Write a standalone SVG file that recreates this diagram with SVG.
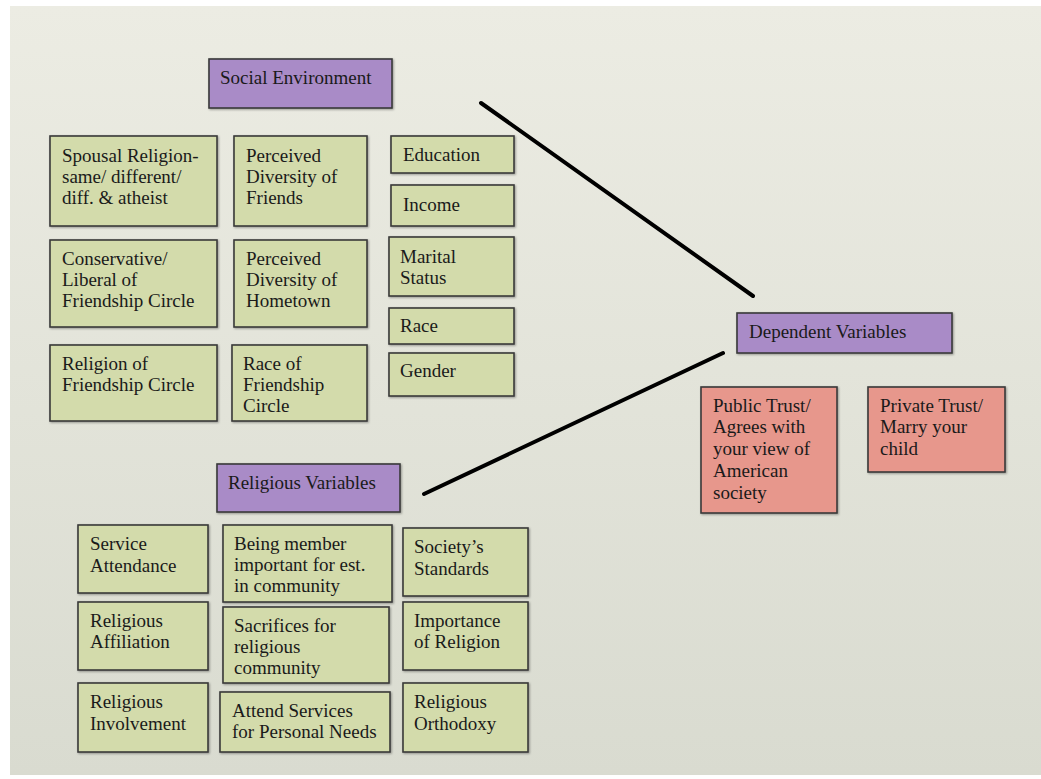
<svg xmlns="http://www.w3.org/2000/svg" width="1041" height="779" viewBox="0 0 1041 779">
<defs>
<linearGradient id="bg" x1="0" y1="0" x2="0" y2="1">
<stop offset="0" stop-color="#ecece3"/>
<stop offset="1" stop-color="#d9dbd0"/>
</linearGradient>
<filter id="sh" x="-10%" y="-10%" width="130%" height="130%">
<feDropShadow dx="1" dy="1" stdDeviation="0.8" flood-color="#000" flood-opacity="0.35"/>
</filter>
</defs>
<style>
.g{fill:#d3dbab;stroke:#3a3a3a;stroke-width:1.6;filter:url(#sh)}
.p{fill:#a98bc7;stroke:#3a3a3a;stroke-width:1.6;filter:url(#sh)}
.r{fill:#e7978c;stroke:#3a3a3a;stroke-width:1.6;filter:url(#sh)}
text{font-family:"Liberation Serif","Times New Roman",serif;font-size:19px;fill:#1a1a1a}
.c{stroke:#000;stroke-width:4;stroke-linecap:round;fill:none}
</style>
<rect x="0" y="0" width="1041" height="779" fill="#ffffff"/>
<rect x="10" y="6" width="1031" height="769" fill="url(#bg)"/>

<g id="connectors">
<line class="c" x1="481" y1="103" x2="753" y2="296"/>
<line class="c" x1="424" y1="494" x2="723" y2="353"/>
</g>

<g id="social-environment"><rect class="p" x="209" y="59" width="183" height="49"/><text x="220" y="84">Social Environment</text></g>
<g id="spousal-religion"><rect class="g" x="50" y="136" width="167" height="90"/><text x="62" y="162">Spousal Religion-</text><text x="62" y="183">same/ different/</text><text x="62" y="204">diff. &amp; atheist</text></g>
<g id="perceived-diversity-friends"><rect class="g" x="234" y="136" width="133" height="90"/><text x="246" y="162">Perceived</text><text x="246" y="183">Diversity of</text><text x="246" y="204">Friends</text></g>
<g id="education"><rect class="g" x="391" y="136" width="123" height="37"/><text x="403" y="161">Education</text></g>
<g id="income"><rect class="g" x="391" y="185" width="123" height="41"/><text x="403" y="211">Income</text></g>
<g id="conservative-liberal"><rect class="g" x="50" y="240" width="167" height="87"/><text x="62" y="265">Conservative/</text><text x="62" y="286">Liberal of</text><text x="62" y="307">Friendship Circle</text></g>
<g id="perceived-diversity-hometown"><rect class="g" x="234" y="240" width="133" height="87"/><text x="246" y="265">Perceived</text><text x="246" y="286">Diversity of</text><text x="246" y="307">Hometown</text></g>
<g id="marital-status"><rect class="g" x="389" y="237" width="125" height="59"/><text x="400" y="263">Marital</text><text x="400" y="284">Status</text></g>
<g id="race"><rect class="g" x="389" y="308" width="125" height="36"/><text x="400" y="332">Race</text></g>
<g id="gender"><rect class="g" x="389" y="353" width="125" height="43"/><text x="400" y="377">Gender</text></g>
<g id="religion-friendship-circle"><rect class="g" x="50" y="345" width="167" height="76"/><text x="62" y="370">Religion of</text><text x="62" y="391">Friendship Circle</text></g>
<g id="race-friendship-circle"><rect class="g" x="232" y="345" width="135" height="76"/><text x="243" y="370">Race of</text><text x="243" y="391">Friendship</text><text x="243" y="412">Circle</text></g>

<g id="religious-variables"><rect class="p" x="217" y="464" width="183" height="48"/><text x="228" y="489">Religious Variables</text></g>
<g id="service-attendance"><rect class="g" x="78" y="525" width="130" height="68"/><text x="90" y="550">Service</text><text x="90" y="572">Attendance</text></g>
<g id="being-member"><rect class="g" x="223" y="525" width="169" height="77"/><text x="234" y="550">Being member</text><text x="234" y="571">important for est.</text><text x="234" y="592">in community</text></g>
<g id="societys-standards"><rect class="g" x="403" y="528" width="125" height="68"/><text x="414" y="553">Society’s</text><text x="414" y="575">Standards</text></g>
<g id="religious-affiliation"><rect class="g" x="78" y="602" width="130" height="68"/><text x="90" y="627">Religious</text><text x="90" y="648">Affiliation</text></g>
<g id="sacrifices"><rect class="g" x="223" y="607" width="166" height="76"/><text x="234" y="632">Sacrifices for</text><text x="234" y="653">religious</text><text x="234" y="674">community</text></g>
<g id="importance-of-religion"><rect class="g" x="403" y="602" width="125" height="68"/><text x="414" y="627">Importance</text><text x="414" y="648">of Religion</text></g>
<g id="religious-involvement"><rect class="g" x="78" y="683" width="130" height="69"/><text x="90" y="708">Religious</text><text x="90" y="730">Involvement</text></g>
<g id="attend-services"><rect class="g" x="220" y="692" width="170" height="60"/><text x="232" y="717">Attend Services</text><text x="232" y="738">for Personal Needs</text></g>
<g id="religious-orthodoxy"><rect class="g" x="403" y="683" width="125" height="69"/><text x="414" y="708">Religious</text><text x="414" y="730">Orthodoxy</text></g>

<g id="dependent-variables"><rect class="p" x="737" y="313" width="215" height="40"/><text x="749" y="338">Dependent Variables</text></g>
<g id="public-trust"><rect class="r" x="701" y="387" width="136" height="126"/><text x="713" y="412">Public Trust/</text><text x="713" y="433">Agrees with</text><text x="713" y="455">your view of</text><text x="713" y="477">American</text><text x="713" y="499">society</text></g>
<g id="private-trust"><rect class="r" x="868" y="387" width="137" height="85"/><text x="880" y="412">Private Trust/</text><text x="880" y="433">Marry your</text><text x="880" y="455">child</text></g>
</svg>
